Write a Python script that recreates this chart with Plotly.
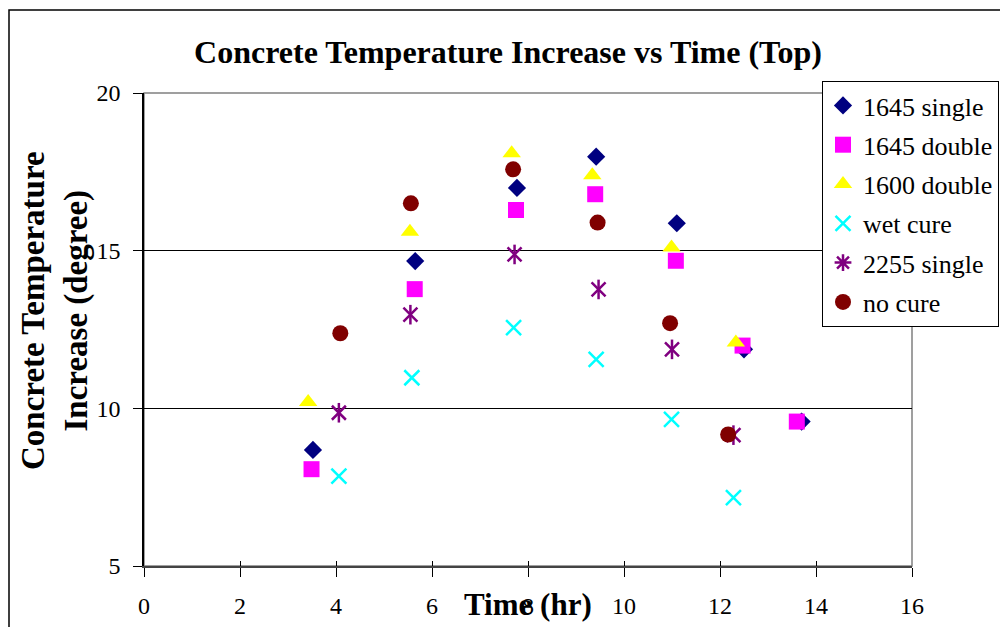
import plotly.graph_objects as go

# ---- data ----
series_names = ["1645 single", "1645 double", "1600 double", "wet cure", "2255 single", "no cure"]

time_1645_single = [3.52, 5.65, 7.77, 9.42, 11.10, 12.50, 13.70]
temp_1645_single = [8.68, 14.67, 16.99, 17.98, 15.87, 11.87, 9.58]

time_1645_double = [3.49, 5.64, 7.75, 9.40, 11.08, 12.47, 13.60]
temp_1645_double = [8.07, 13.78, 16.29, 16.79, 14.68, 11.99, 9.58]

time_1600_double = [3.42, 5.54, 7.66, 9.34, 10.99, 12.33]
temp_1600_double = [10.20, 15.60, 18.09, 17.39, 15.10, 12.09]

time_wet_cure = [4.06, 5.58, 7.70, 9.42, 10.99, 12.28]
temp_wet_cure = [7.85, 10.97, 12.56, 11.55, 9.65, 7.17]

time_2255_single = [4.06, 5.55, 7.72, 9.47, 11.00, 12.28]
temp_2255_single = [9.86, 12.97, 14.88, 13.77, 11.87, 9.15]

time_no_cure = [4.09, 5.56, 7.69, 9.45, 10.96, 12.17]
temp_no_cure = [12.38, 16.50, 17.58, 15.89, 12.70, 9.17]

x_ticks = [0, 2, 4, 6, 8, 10, 12, 14, 16]
y_ticks = [5, 10, 15, 20]

FONT = "Liberation Serif, Times New Roman, Times, serif"

fig = go.Figure()

def add(name, xs, ys, symbol, color, size, group, line_w=0, showlegend=True):
    marker = dict(symbol=symbol, size=size, color=color)
    if symbol.endswith("-open"):
        marker["line"] = dict(color=color, width=line_w)
    else:
        marker["line"] = dict(width=0)
    fig.add_trace(go.Scatter(x=xs, y=ys, mode="markers", name=name, marker=marker,
                             legendgroup=group, showlegend=showlegend))

add(series_names[0], time_1645_single, temp_1645_single, "diamond", "#000080", 14, "g0")
add(series_names[1], time_1645_double, temp_1645_double, "square", "#FF00FF", 16, "g1")
add(series_names[2], time_1600_double, temp_1600_double, "triangle-up", "#FFFF00", 16, "g2")
add(series_names[3], time_wet_cure, temp_wet_cure, "x-thin-open", "#00FFFF", 15, "g3", line_w=2.5)
# 2255 single: Excel-style star (X plus vertical bar) drawn as two overlaid symbols
add(series_names[4], [None], [None], "asterisk-open", "#800080", 14, "g4", line_w=2.5)
add(series_names[4], time_2255_single, temp_2255_single, "x-thin-open", "#800080", 14, "g4", line_w=2.5, showlegend=False)
add(series_names[4], time_2255_single, temp_2255_single, "line-ns-open", "#800080", 14, "g4", line_w=2.5, showlegend=False)
add(series_names[5], time_no_cure, temp_no_cure, "circle", "#800000", 16, "g5")

fig.update_layout(
    width=1000, height=627, autosize=False,
    margin=dict(l=144, r=88, t=93, b=61, autoexpand=False),
    paper_bgcolor="white", plot_bgcolor="white",
    font=dict(family=FONT, color="black"),
    title=dict(text="Concrete Temperature Increase vs Time (Top)",
               font=dict(family=FONT, size=32, weight="bold", color="black"),
               xref="container", yref="container", x=0.508, y=1 - 52 / 627,
               xanchor="center", yanchor="middle"),
    showlegend=True,
    legend=dict(x=(822 - 144) / 768, y=(566 - 81) / 473, xanchor="left", yanchor="top",
                bgcolor="white", bordercolor="black", borderwidth=1,
                font=dict(family=FONT, size=26, color="black"),
                tracegroupgap=2.5, itemwidth=30),
    xaxis=dict(range=[0, 16], tickvals=x_ticks, showgrid=False, zeroline=False,
               showline=True, linecolor="#444444", linewidth=2,
               ticks="outside", ticklen=9, tickcolor="black", tickwidth=1,
               tickfont=dict(family=FONT, size=24, color="black"),
               ticklabelstandoff=8),
    xaxis2=dict(range=[0, 16], tickvals=x_ticks, overlaying="x", anchor="y", side="bottom",
                showgrid=False, zeroline=False, showline=False, showticklabels=False,
                ticks="inside", ticklen=5, tickcolor="black", tickwidth=1),
    yaxis=dict(range=[5, 20], tickvals=y_ticks, showgrid=True, gridcolor="black", gridwidth=1,
               zeroline=False, showline=True, linecolor="black", linewidth=1.5,
               ticks="outside", ticklen=9, tickcolor="black", tickwidth=1,
               tickfont=dict(family=FONT, size=24, color="black"),
               ticklabelstandoff=8),
    annotations=[
        dict(text="Time (hr)", xref="paper", yref="paper",
             x=(528 - 144) / 768, y=(566 - 604) / 473, xanchor="center", yanchor="middle",
             showarrow=False, font=dict(family=FONT, size=31, weight="bold", color="black")),
        dict(text="Concrete Temperature<br>Increase (degree)", xref="paper", yref="paper",
             x=(55 - 144) / 768, y=(566 - 311) / 473, xanchor="center", yanchor="middle",
             textangle=-90, showarrow=False,
             font=dict(family=FONT, size=33, weight="bold", color="black")),
    ],
    shapes=[
        # plot-area border (gray)
        dict(type="rect", xref="paper", yref="paper", x0=0, x1=1, y0=0, y1=1,
             line=dict(color="#808080", width=1.5), layer="below"),
        # outer chart border
        dict(type="rect", xref="paper", yref="paper",
             x0=(9 - 144) / 768, x1=(1015 - 144) / 768,
             y0=(566 - 645) / 473, y1=(566 - 10) / 473,
             line=dict(color="black", width=1.5), layer="below"),
    ],
)

# dummy trace so xaxis2 is rendered
fig.add_trace(go.Scatter(x=[None], y=[None], xaxis="x2", showlegend=False, hoverinfo="skip"))

fig.write_html("out.html")
